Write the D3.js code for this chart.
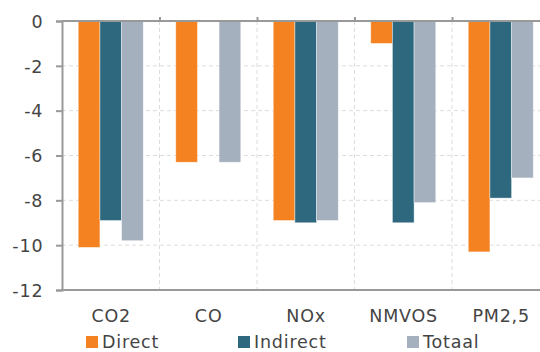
<!DOCTYPE html>
<html><head><meta charset="utf-8">
<script src="https://cdn.jsdelivr.net/npm/d3@7"></script>
<style>body{margin:0;background:#fff;overflow:hidden}svg{display:block}</style>
</head><body>
<svg id="c" width="540" height="352"></svg>
<script>
const categories = ["CO2", "CO", "NOx", "NMVOS", "PM2,5"];
const seriesNames = ["Direct", "Indirect", "Totaal"];
const directVals = [-10.1, -6.3, -8.9, -1.0, -10.3];
const indirectVals = [-8.9, 0, -9.0, -9.0, -7.9];
const totaalVals = [-9.8, -6.3, -8.9, -8.1, -7.0];
const yTicks = [0, -2, -4, -6, -8, -10, -12];
const colors = ["#F58220", "#2E687E", "#A5B0BE"];

const series = [directVals, indirectVals, totaalVals];
const svg = d3.select("#c");
const font = "'DejaVu Sans', Verdana, sans-serif";
const FS = 17.5, LS = 0.8, TXT = "#444";
const L = 62, R = 549.5, T = 21, B = 290;

const x = d3.scaleBand().domain(categories).range([L, R]).paddingInner(0).paddingOuter(0);
const xs = d3.scaleBand().domain(seriesNames).range([0, x.bandwidth()]).paddingInner(0).paddingOuter(0.75);
const y = d3.scaleLinear().domain([-12, 0]).range([B, T]);

// gridlines
const g = svg.append("g");
g.selectAll("line.h").data(yTicks.filter(t => t !== 0 && t !== -12)).join("line")
  .attr("x1", L).attr("x2", R).attr("y1", d => y(d)).attr("y2", d => y(d))
  .attr("stroke", "#dcdcdc").attr("stroke-dasharray", "4,3").attr("stroke-width", 1);
g.selectAll("line.v").data(categories.slice(1)).join("line")
  .attr("x1", d => x(d)).attr("x2", d => x(d)).attr("y1", T).attr("y2", B)
  .attr("stroke", "#dcdcdc").attr("stroke-dasharray", "4,3").attr("stroke-width", 1);

// bars
categories.forEach((c, i) => {
  series.forEach((s, j) => {
    const v = s[i];
    if (v === 0) return;
    svg.append("rect")
      .attr("x", x(c) + xs(seriesNames[j]))
      .attr("y", y(0))
      .attr("width", xs.bandwidth())
      .attr("height", y(v) - y(0))
      .attr("fill", colors[j])
      .attr("stroke", "rgba(255,255,255,0.5)").attr("stroke-width", 0.8);
  });
});

function styleText(sel) {
  sel.attr("font-family", font).attr("font-size", FS).attr("fill", TXT)
     .style("letter-spacing", LS + "px");
}

// y axis
const yAxis = d3.axisLeft(y).tickValues(yTicks).tickSize(6).tickFormat(d => String(d));
const ya = svg.append("g").attr("transform", `translate(${L},0)`).call(yAxis);
ya.select(".domain").attr("stroke", "#999").attr("stroke-width", 2);
ya.selectAll(".tick line").attr("stroke", "#999").attr("stroke-width", 2);
ya.selectAll(".tick text").attr("x", -18.7).attr("dy", "0.36em").call(styleText);

// top zero line with ticks upward at dividers
const xa = svg.append("g").attr("transform", `translate(0,${y(0)})`)
  .call(d3.axisTop(d3.scaleLinear().domain([L, R]).range([L, R]))
    .tickValues(categories.slice(1).map(c => x(c))).tickSize(4).tickFormat(""));
xa.select(".domain").attr("stroke", "#999").attr("stroke-width", 2).attr("d", `M${L},0H${R}`);
xa.selectAll(".tick line").attr("stroke", "#999").attr("stroke-width", 2);

// bottom line with category labels
const xb = svg.append("g").attr("transform", `translate(0,${B})`)
  .call(d3.axisBottom(x).tickSize(0).tickPadding(0));
xb.select(".domain").attr("stroke", "#999").attr("stroke-width", 2).attr("d", `M${L},0H${R}`);
xb.selectAll(".tick text").attr("x", LS / 2).attr("y", 32).attr("dy", 0).call(styleText);

// legend
const legendX = [86, 238, 407];
seriesNames.forEach((n, j) => {
  const lg = svg.append("g").attr("transform", `translate(${legendX[j]},336)`);
  lg.append("rect").attr("width", 12).attr("height", 12).attr("fill", colors[j]);
  lg.append("text").attr("x", 16).attr("y", 12).text(n).call(styleText);
});
</script>
</body></html>
